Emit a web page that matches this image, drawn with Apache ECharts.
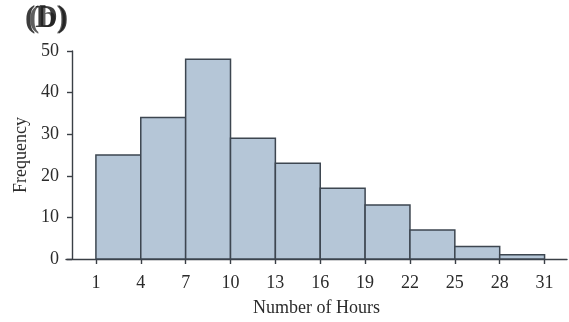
<!DOCTYPE html>
<html>
<head>
<meta charset="utf-8">
<script src="https://cdn.jsdelivr.net/npm/echarts@6/dist/echarts.min.js"></script>
<style>
  html, body { margin: 0; padding: 0; background: #ffffff; }
  #chart { width: 569px; height: 322px; }
</style>
</head>
<body>
<div id="chart"></div>
<script>
// Histogram of hours: bins of width 3 starting at 1
const binStarts = [1, 4, 7, 10, 13, 16, 19, 22, 25, 28];
const binWidth = 3;
const frequencies = [25, 34, 48, 29, 23, 17, 13, 7, 3, 1];
const xTickValues = [1, 4, 7, 10, 13, 16, 19, 22, 25, 28, 31];

const serif = '"Liberation Serif", "DejaVu Serif", serif';
const ink = '#3a3f45';

const bars = binStarts.map((s, i) => [s, s + binWidth, frequencies[i]]);

const chart = echarts.init(document.getElementById('chart'), null, { renderer: 'canvas' });

chart.setOption({
  animation: false,
  backgroundColor: '#ffffff',
  grid: { left: 66, right: 2, top: 51, bottom: 59 },
  xAxis: {
    type: 'value',
    min: -1,
    max: 32.5,
    name: 'Number of Hours',
    nameLocation: 'middle',
    nameGap: 40,
    nameTextStyle: { fontFamily: serif, fontSize: 18, color: '#2b2b2b' },
    axisLine: { onZero: false, lineStyle: { color: ink, width: 1.4 } },
    axisTick: { show: true, length: 5, customValues: xTickValues, lineStyle: { color: ink, width: 1.4 } },
    axisLabel: { customValues: xTickValues, margin: 15, fontFamily: serif, fontSize: 18, color: '#2b2b2b' },
    splitLine: { show: false }
  },
  yAxis: {
    type: 'value',
    min: 0,
    max: 50,
    interval: 10,
    offset: -6,
    name: 'Frequency',
    nameLocation: 'middle',
    nameGap: 40,
    nameTextStyle: { fontFamily: serif, fontSize: 18, color: '#2b2b2b' },
    axisLine: { show: true, onZero: false, lineStyle: { color: ink, width: 1.4 } },
    axisTick: { show: true, length: 5, lineStyle: { color: ink, width: 1.4 } },
    axisLabel: { margin: 13, fontFamily: serif, fontSize: 18, color: '#2b2b2b' },
    splitLine: { show: false }
  },
  series: [{
    type: 'custom',
    data: bars,
    encode: { x: [0, 1], y: 2 },
    clip: false,
    renderItem: function (params, api) {
      const p0 = api.coord([api.value(0), 0]);
      const p1 = api.coord([api.value(1), api.value(2)]);
      return {
        type: 'rect',
        shape: { x: p0[0], y: p1[1], width: p1[0] - p0[0], height: p0[1] - p1[1] },
        style: { fill: '#b5c6d7', stroke: '#3d4650', lineWidth: 1.5 }
      };
    }
  }],
  graphic: [
    {
      type: 'text', left: 29, top: 3,
      style: { text: '(b)', font: 'bold 31px ' + serif, fill: '#1a1a1a', opacity: 0.7 }
    },
    {
      type: 'text', left: 25, top: 3,
      style: { text: '(D)', font: 'bold 31px ' + serif, fill: '#1a1a1a', opacity: 0.85 }
    }
  ]
});
</script>
</body>
</html>
